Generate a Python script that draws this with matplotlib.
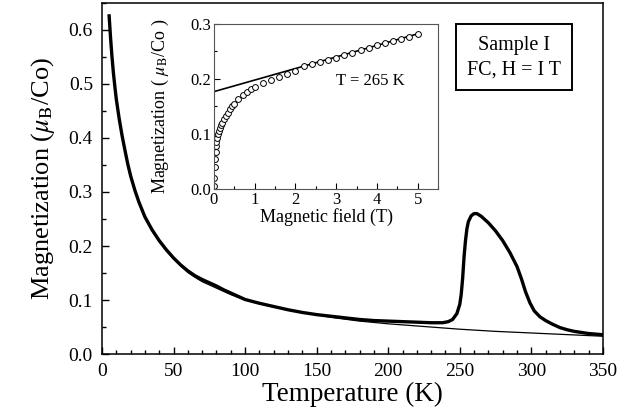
import matplotlib
matplotlib.use("Agg")
from matplotlib import pyplot as plt
from matplotlib.ticker import MultipleLocator, FormatStrFormatter

plt.rcParams['font.family'] = ['Liberation Serif', 'DejaVu Serif']
plt.rcParams['mathtext.fontset'] = 'stix'

# FC magnetization vs temperature (thick curve)
temp_fc = [5, 6, 7, 8, 9, 10, 12, 14, 16, 18, 20, 23, 26, 30, 35, 40, 45, 50, 55, 60, 65,
           70, 75, 80, 85, 90, 95, 100, 110, 120, 130, 140, 150, 160, 170, 180, 190, 200,
           210, 220, 230, 238, 242, 245, 248, 250, 251, 252, 253, 254, 255, 256, 258, 260,
           262, 265, 270, 275, 280, 285, 290, 293, 296, 299, 302, 306, 310, 315, 320, 325,
           330, 340, 349]
mag_fc = [0.626, 0.585, 0.550, 0.520, 0.495, 0.472, 0.436, 0.405, 0.378, 0.352, 0.330,
          0.303, 0.280, 0.254, 0.230, 0.210, 0.193, 0.178, 0.165, 0.154, 0.145, 0.138,
          0.132, 0.126, 0.119, 0.113, 0.107, 0.101, 0.094, 0.088, 0.082, 0.077, 0.073,
          0.070, 0.067, 0.064, 0.062, 0.061, 0.060, 0.059, 0.058, 0.058, 0.060, 0.064,
          0.075, 0.092, 0.110, 0.140, 0.180, 0.210, 0.232, 0.245, 0.256, 0.260, 0.260,
          0.255, 0.243, 0.228, 0.210, 0.188, 0.162, 0.140, 0.115, 0.095, 0.080, 0.069,
          0.062, 0.055, 0.049, 0.045, 0.042, 0.038, 0.036]

# paramagnetic background (thin curve)
temp_bg = [5, 6, 7, 8, 9, 10, 12, 14, 16, 18, 20, 23, 26, 30, 35, 40, 45, 50, 55, 60, 65,
           70, 75, 80, 85, 90, 95, 100, 120, 140, 160, 180, 200, 225, 250, 275, 300, 325, 350]
mag_bg = [0.624, 0.583, 0.548, 0.518, 0.493, 0.470, 0.434, 0.403, 0.376, 0.350, 0.328,
          0.301, 0.278, 0.252, 0.228, 0.208, 0.191, 0.176, 0.163, 0.151, 0.142, 0.134,
          0.128, 0.122, 0.116, 0.110, 0.105, 0.100, 0.087, 0.077, 0.068, 0.061, 0.056,
          0.051, 0.046, 0.042, 0.039, 0.036, 0.033]

# inset: M(H) at 265 K
field = [0.0, 0.01, 0.02, 0.03, 0.04, 0.05, 0.06, 0.08, 0.10, 0.12, 0.15, 0.18, 0.2, 0.25,
         0.3, 0.35, 0.4, 0.45, 0.5, 0.6, 0.7, 0.8, 0.9, 1.0, 1.2, 1.4, 1.6, 1.8, 2.0, 2.2,
         2.4, 2.6, 2.8, 3.0, 3.2, 3.4, 3.6, 3.8, 4.0, 4.2, 4.4, 4.6, 4.8, 5.0]
mag_h = [0.005, 0.02, 0.04, 0.055, 0.068, 0.078, 0.085, 0.093, 0.100, 0.105, 0.111, 0.117,
         0.120, 0.127, 0.133, 0.139, 0.145, 0.150, 0.155, 0.163, 0.170, 0.177, 0.182, 0.186,
         0.192, 0.198, 0.204, 0.209, 0.214, 0.223, 0.227, 0.231, 0.235, 0.239, 0.244, 0.248,
         0.252, 0.256, 0.261, 0.265, 0.269, 0.273, 0.277, 0.282]
fit_h = [0.0, 5.0]
fit_m = [0.177, 0.282]

fig = plt.figure(figsize=(6.43, 4.19), dpi=100)
ax = fig.add_axes([0.1586, 0.155, 0.779, 0.838])

ax.plot(temp_bg, mag_bg, color='black', lw=0.9)
ax.plot(temp_fc, mag_fc, color='black', lw=2.4, solid_joinstyle='round')

ax.set_xlim(0, 350)
ax.set_ylim(0, 0.65)
ax.xaxis.set_major_locator(MultipleLocator(50))
ax.xaxis.set_minor_locator(MultipleLocator(10))
ax.yaxis.set_major_locator(MultipleLocator(0.1))
ax.yaxis.set_minor_locator(MultipleLocator(0.05))
ax.yaxis.set_major_formatter(FormatStrFormatter('%.1f'))
ax.tick_params(which='major', direction='in', length=5, width=1, labelsize=14, pad=6.5)
ax.tick_params(which='minor', direction='in', length=3, width=1)
ax.set_xlabel('Temperature (K)', fontsize=19.5, labelpad=1)
ax.set_ylabel(r'Magnetization ($\mu_\mathrm{B}$/Co)', fontsize=19, labelpad=8)
for s in ax.spines.values():
    s.set_linewidth(1.1)

ax.text(0.822, 0.845, 'Sample I\nFC, H = I T', transform=ax.transAxes, fontsize=14.5,
        ha='center', va='center', linespacing=1.4,
        bbox=dict(boxstyle='square,pad=0.55', fc='white', ec='black', lw=1.4))

# inset
axin = fig.add_axes([0.3328, 0.549, 0.3484, 0.3938])
axin.plot(fit_h, fit_m, color='black', lw=1.2)
axin.plot(field, mag_h, 'o', mfc='white', mec='black', ms=4.2, mew=0.7)
axin.set_xlim(0, 5.5)
axin.set_ylim(0, 0.3)
axin.xaxis.set_major_locator(MultipleLocator(1))
axin.xaxis.set_minor_locator(MultipleLocator(0.5))
axin.yaxis.set_major_locator(MultipleLocator(0.1))
axin.yaxis.set_minor_locator(MultipleLocator(0.05))
axin.yaxis.set_major_formatter(FormatStrFormatter('%.1f'))
axin.tick_params(which='major', direction='in', length=4, width=0.8, labelsize=12, pad=2)
axin.tick_params(which='minor', direction='in', length=2, width=0.8)
axin.set_xlabel('Magnetic field (T)', fontsize=13, labelpad=0.5)
axin.set_ylabel(r'Magnetization ( $\mu_\mathrm{B}$/Co )', fontsize=13)
axin.yaxis.set_label_coords(-0.19, 0.5)
for s in axin.spines.values():
    s.set_linewidth(0.8)
    s.set_color('#555555')
axin.text(3.0, 0.197, 'T = 265 K', fontsize=12, ha='left', va='center')

fig.savefig('out.png', dpi=100)
